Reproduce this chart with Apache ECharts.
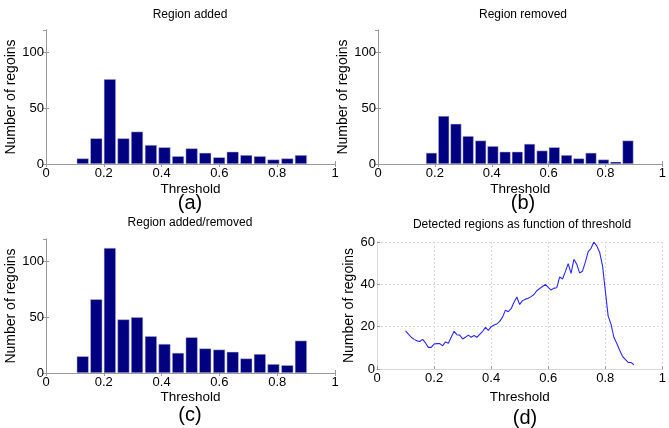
<!DOCTYPE html>
<html>
<head>
<meta charset="utf-8">
<script src="https://cdn.jsdelivr.net/npm/echarts@6/dist/echarts.min.js"></script>
<style>
  html, body { margin: 0; padding: 0; background: #fff; }
  #chart { width: 669px; height: 428px; }
</style>
</head>
<body>
<div id="chart"></div>
<script>
// bin centres
const binsAddedCombined = [0.127, 0.174, 0.221, 0.268, 0.315, 0.363, 0.410, 0.457, 0.504,
  0.551, 0.599, 0.646, 0.693, 0.740, 0.787, 0.835, 0.882];
const binsRemoved = [0.188, 0.231, 0.274, 0.317, 0.361, 0.404, 0.447, 0.490, 0.533,
  0.577, 0.620, 0.663, 0.706, 0.749, 0.793, 0.836, 0.879];

const regionAdded = [5, 23, 76, 23, 29, 17, 15, 7, 14, 10, 6, 11, 8, 7, 4, 5, 8];
const regionRemoved = [10, 43, 36, 25, 21, 16, 11, 11, 18, 12, 15, 8, 5, 10, 4, 2, 21];
const regionAddedRemoved = [15, 66, 112, 48, 50, 33, 26, 18, 32, 22, 21, 19, 13, 17, 8, 7, 29];

const thresholds = [0.10, 0.11, 0.12, 0.13, 0.14, 0.15, 0.16, 0.17, 0.18, 0.19,
  0.20, 0.21, 0.22, 0.23, 0.24, 0.25, 0.26, 0.27, 0.28, 0.29,
  0.30, 0.31, 0.32, 0.33, 0.34, 0.35, 0.36, 0.37, 0.38, 0.39,
  0.40, 0.41, 0.42, 0.43, 0.44, 0.45, 0.46, 0.47, 0.48, 0.49,
  0.50, 0.51, 0.52, 0.53, 0.54, 0.55, 0.56, 0.57, 0.58, 0.59,
  0.60, 0.61, 0.62, 0.63, 0.64, 0.65, 0.66, 0.67, 0.68, 0.69,
  0.70, 0.71, 0.72, 0.73, 0.74, 0.75, 0.76, 0.77, 0.78, 0.79,
  0.80, 0.81, 0.82, 0.83, 0.84, 0.85, 0.86, 0.87, 0.88, 0.89, 0.90];
const detectedRegions = [18, 16.5, 15, 14, 13.3, 13, 14, 12.3, 10.2, 10.2,
  11.8, 12, 12, 11, 12.8, 12.2, 15, 17.8, 16.2, 16,
  14.2, 15, 16, 15, 15.8, 15, 16.4, 17.8, 19.7, 18.2,
  20, 20.8, 21.3, 22.5, 24.5, 27.8, 27.1, 28.5, 31.5, 34,
  30.5, 32.3, 33, 33.4, 34.2, 35.2, 37, 38, 39, 40,
  38.6, 37.3, 38.2, 38.4, 43.5, 42.5, 46, 49.8, 45.2, 51.8,
  49.5, 45.4, 46.2, 50.5, 55.5, 57, 60, 58.2, 55.2, 49,
  37, 25, 21.2, 15, 12.2, 9, 6, 4.5, 3.1, 3.1, 2];

const FONT = '"Liberation Sans", Arial, sans-serif';
const AXIS_GREY = '#9a9a9a';
const BAR_COLOR = '#000080';

const panels = [
  { rect: { left: 46, top: 30, width: 289, height: 134 }, yMax: 120, yInterval: 50, grid: false, xGap: 18, yGap: 25 },
  { rect: { left: 378, top: 30, width: 290, height: 134 }, yMax: 120, yInterval: 50, grid: false, xGap: 18, yGap: 25 },
  { rect: { left: 46, top: 239, width: 289, height: 134 }, yMax: 120, yInterval: 50, grid: false, xGap: 17, yGap: 25 },
  { rect: { left: 377, top: 242, width: 289, height: 127 }, yMax: 60, yInterval: 20, grid: true, xGap: 21, yGap: 16 }
];

const grids = [];
const xAxes = [];
const yAxes = [];

panels.forEach((p, i) => {
  grids.push(Object.assign({ containLabel: false }, p.rect));
  const split = {
    show: p.grid,
    lineStyle: { color: '#d8d8d8', type: [2, 2], width: 1 }
  };
  // bottom / left: real axes with labels
  xAxes.push({
    gridIndex: i, type: 'value', min: 0, max: 1, interval: 0.2,
    name: 'Threshold', nameLocation: 'middle', nameGap: p.xGap,
    nameTextStyle: { fontFamily: FONT, fontSize: 13.5, color: '#000' },
    axisLine: { lineStyle: { color: AXIS_GREY } },
    axisTick: { inside: true, length: 3, lineStyle: { color: AXIS_GREY } },
    axisLabel: { fontFamily: FONT, fontSize: 13, color: '#000', margin: 3 },
    splitLine: split
  });
  yAxes.push({
    gridIndex: i, type: 'value', min: 0, max: p.yMax, interval: p.yInterval,
    name: 'Number of regoins', nameLocation: 'middle', nameGap: p.yGap,
    nameTextStyle: { fontFamily: FONT, fontSize: 14, color: '#000' },
    axisLine: { show: true, lineStyle: { color: AXIS_GREY } },
    axisTick: { show: true, inside: true, length: 3, lineStyle: { color: AXIS_GREY } },
    axisLabel: {
      fontFamily: FONT, fontSize: 13, color: '#000', margin: 2,
      showMaxLabel: p.grid
    },
    splitLine: split
  });
  // top / right: mirrored box edges with ticks only
  xAxes.push({
    gridIndex: i, type: 'value', position: 'top', min: 0, max: 1, interval: 0.2,
    axisLine: { lineStyle: { color: p.grid ? '#d8d8d8' : AXIS_GREY } },
    axisTick: { show: !p.grid, inside: true, length: 3, lineStyle: { color: AXIS_GREY } },
    axisLabel: { show: false }, splitLine: { show: false }
  });
  yAxes.push({
    gridIndex: i, type: 'value', position: 'right', min: 0, max: p.yMax, interval: p.yInterval,
    axisLine: { show: true, lineStyle: { color: p.grid ? '#d8d8d8' : AXIS_GREY } },
    axisTick: { show: !p.grid, inside: true, length: 3, lineStyle: { color: AXIS_GREY } },
    axisLabel: { show: false }, splitLine: { show: false }
  });
});

function barSeries(panel, centres, counts, width) {
  return {
    type: 'bar',
    xAxisIndex: panel * 2, yAxisIndex: panel * 2,
    barWidth: width,
    itemStyle: { color: BAR_COLOR, borderColor: '#c8c8dc', borderWidth: 0.5 },
    data: centres.map((c, i) => [c, counts[i]])
  };
}

const texts = [
  { x: 190, y: 15, text: 'Region added', size: 12 },
  { x: 523, y: 15, text: 'Region removed', size: 12 },
  { x: 190, y: 223, text: 'Region added/removed', size: 12 },
  { x: 522, y: 225, text: 'Detected regions as function of threshold', size: 12 },
  { x: 190, y: 203, text: '(a)', size: 20 },
  { x: 523, y: 203, text: '(b)', size: 20 },
  { x: 190, y: 415, text: '(c)', size: 20 },
  { x: 525, y: 418, text: '(d)', size: 20 }
];

const chart = echarts.init(document.getElementById('chart'));
chart.setOption({
  animation: false,
  backgroundColor: '#fff',
  grid: grids,
  xAxis: xAxes,
  yAxis: yAxes,
  graphic: texts.map(t => ({
    type: 'text', x: t.x, y: t.y,
    style: {
      text: t.text, fill: '#000', font: t.size + 'px ' + FONT,
      textAlign: 'center', textVerticalAlign: 'middle'
    }
  })),
  series: [
    barSeries(0, binsAddedCombined, regionAdded, 12),
    barSeries(1, binsRemoved, regionRemoved, 11),
    barSeries(2, binsAddedCombined, regionAddedRemoved, 12),
    {
      type: 'line',
      xAxisIndex: 6, yAxisIndex: 6,
      showSymbol: false,
      lineStyle: { color: '#2a2aff', width: 1.1 },
      data: thresholds.map((t, i) => [t, detectedRegions[i]])
    }
  ]
});
</script>
</body>
</html>
